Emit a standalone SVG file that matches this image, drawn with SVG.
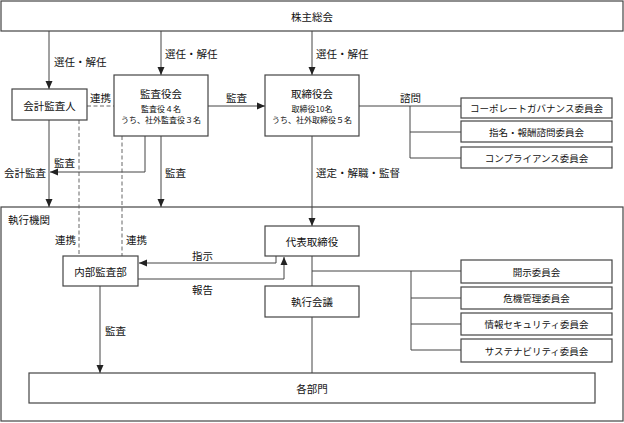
<svg xmlns="http://www.w3.org/2000/svg" width="624" height="423" viewBox="0 0 624 423">
<defs>
<marker id="ah" viewBox="0 0 8 8" refX="8" refY="4" markerWidth="8" markerHeight="8" markerUnits="userSpaceOnUse" orient="auto">
<path d="M0,0.5 L8,4 L0,7.5 Z" fill="#222"/>
</marker>
<style>
text{font-family:"Noto Sans CJK JP","Liberation Sans",sans-serif;fill:#111;dominant-baseline:central}
.n{fill:#fff;stroke:#444;stroke-width:1.2}
.c{fill:none;stroke:#444;stroke-width:1}
.d{fill:none;stroke:#666;stroke-width:1;stroke-dasharray:4,2.5}
.a{marker-end:url(#ah)}
.t{font-size:10.5px;text-anchor:middle}
.s{font-size:8px;text-anchor:middle}
.m{font-size:9.5px;text-anchor:middle}
.l{font-size:10.5px}
</style>
</defs>
<g id="exec-frame"><rect class="n" x="1" y="207" width="622" height="214" fill="none"/><text class="l" x="8" y="219">執行機関</text></g>
<g id="connectors">
<line class="c a" x1="49" y1="31" x2="49" y2="89"/>
<line class="c a" x1="161" y1="31" x2="161" y2="75"/>
<line class="c a" x1="312" y1="31" x2="312" y2="75"/>
<line class="c a" x1="208" y1="106" x2="265" y2="106"/>
<line class="d" x1="87" y1="106" x2="114" y2="106"/>
<line class="d" x1="79" y1="120" x2="79" y2="256"/>
<line class="d" x1="122" y1="136" x2="122" y2="256"/>
<polyline class="c a" points="145,136 145,172 50,172"/>
<line class="c a" x1="49" y1="120" x2="49" y2="207"/>
<line class="c a" x1="161" y1="136" x2="161" y2="207"/>
<line class="c a" x1="312" y1="136" x2="312" y2="226"/>
<polyline class="c a" points="276,256 276,263 139,263"/>
<polyline class="c a" points="138,279 284,279 284,257"/>
<line class="c" x1="312" y1="256" x2="312" y2="286"/>
<line class="c" x1="312" y1="317" x2="312" y2="373"/>
<line class="c" x1="312" y1="271" x2="461" y2="271"/>
<polyline class="c" points="411,271 411,350 461,350"/>
<line class="c" x1="411" y1="298" x2="461" y2="298"/>
<line class="c" x1="411" y1="324" x2="461" y2="324"/>
<line class="c" x1="359" y1="106" x2="461" y2="106"/>
<polyline class="c" points="410,106 410,158 461,158"/>
<line class="c" x1="410" y1="132" x2="461" y2="132"/>
<line class="c a" x1="100" y1="286" x2="100" y2="373"/>
</g>
<g id="labels">
<text class="l" x="54" y="61">選任・解任</text>
<text class="l" x="165" y="53">選任・解任</text>
<text class="l" x="316" y="53">選任・解任</text>
<text class="l" x="90" y="97">連携</text>
<text class="l" x="226" y="97">監査</text>
<text class="l" x="400" y="97">諮問</text>
<text class="l" x="54" y="162">監査</text>
<text class="l" x="4" y="172">会計監査</text>
<text class="l" x="165" y="172">監査</text>
<text class="l" x="316" y="172">選定・解職・監督</text>
<text class="l" x="55" y="239">連携</text>
<text class="l" x="126" y="239">連携</text>
<text class="l" x="192" y="255">指示</text>
<text class="l" x="192" y="289">報告</text>
<text class="l" x="105" y="330">監査</text>
</g>
<g id="shareholders"><rect class="n" x="1" y="1" width="622" height="30"/><text class="t" x="312" y="16">株主総会</text></g>
<g id="auditor"><rect class="n" x="12" y="89" width="75" height="31"/><text class="t" x="49.5" y="105">会計監査人</text></g>
<g id="audit-board"><rect class="n" x="114" y="75" width="94" height="61"/><text class="t" x="161" y="93">監査役会</text><text class="s" x="161" y="108">監査役４名</text><text class="s" x="161" y="119">うち、社外監査役３名</text></g>
<g id="board"><rect class="n" x="265" y="75" width="94" height="61"/><text class="t" x="312" y="93">取締役会</text><text class="s" x="312" y="108">取締役10名</text><text class="s" x="312" y="119">うち、社外取締役５名</text></g>
<g id="cg"><rect class="n" x="461" y="98" width="151" height="20"/><text class="m" x="536.5" y="108">コーポレートガバナンス委員会</text></g>
<g id="nom"><rect class="n" x="461" y="121" width="151" height="21"/><text class="m" x="536.5" y="131.5">指名・報酬諮問委員会</text></g>
<g id="comp"><rect class="n" x="461" y="147" width="151" height="21"/><text class="m" x="536.5" y="157.5">コンプライアンス委員会</text></g>
<g id="rep"><rect class="n" x="265" y="226" width="94" height="30"/><text class="t" x="312" y="241">代表取締役</text></g>
<g id="exec"><rect class="n" x="265" y="286" width="94" height="31"/><text class="t" x="312" y="301.5">執行会議</text></g>
<g id="internal-audit"><rect class="n" x="63" y="256" width="75" height="30"/><text class="t" x="100.5" y="271">内部監査部</text></g>
<g id="disc"><rect class="n" x="461" y="260" width="151" height="23"/><text class="m" x="536.5" y="271.5">開示委員会</text></g>
<g id="risk"><rect class="n" x="461" y="287" width="151" height="22"/><text class="m" x="536.5" y="298">危機管理委員会</text></g>
<g id="infosec"><rect class="n" x="461" y="313" width="151" height="22"/><text class="m" x="536.5" y="324">情報セキュリティ委員会</text></g>
<g id="sust"><rect class="n" x="461" y="339" width="151" height="23"/><text class="m" x="536.5" y="350.5">サステナビリティ委員会</text></g>
<g id="depts"><rect class="n" x="29" y="373" width="566" height="30"/><text class="t" x="312" y="388">各部門</text></g>
</svg>
